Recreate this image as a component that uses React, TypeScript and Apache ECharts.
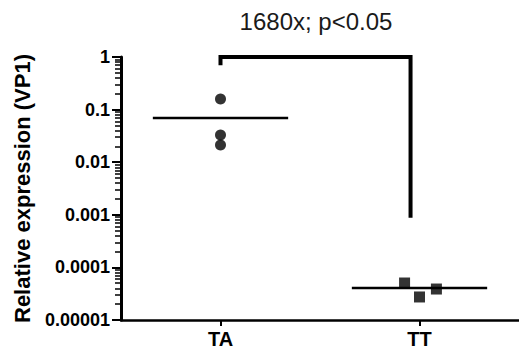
import React, { useEffect, useRef } from "react";
import * as echarts from "echarts";

const categories = ["TA", "TT"];
const titleText = "1680x; p<0.05";
const yAxisName = "Relative expression (VP1)";
const yTickLabels = ["0.00001", "0.0001", "0.001", "0.01", "0.1", "1"];

// x = category index (+ small horizontal jitter), y = relative expression
const taValues: [number, number][] = [
  [0, 0.159],
  [0, 0.033],
  [0, 0.0212],
];
const ttValues: [number, number][] = [
  [0.925, 0.0000505],
  [1.0, 0.0000274],
  [1.085, 0.0000388],
];
const means = [0.069, 0.0000406];
const meanHalfWidth = 0.34;
// significance bracket
const bracket: [number, number][] = [
  [0, 0.7],
  [0, 1],
  [0.955, 1],
  [0.955, 0.00088],
];

const minorTickValues: number[] = [];
for (let e = -5; e < 0; e++) {
  for (let m = 2; m <= 9; m++) minorTickValues.push(m * Math.pow(10, e));
}

const FONT = "'Liberation Sans', Arial, sans-serif";

export default function App() {
  const ref = useRef<HTMLDivElement>(null);
  useEffect(() => {
    document.body.style.margin = "0";
    if (!ref.current) return;
    const chart = echarts.init(ref.current, null, { renderer: "svg" });
    const meanSeries = means.map((m, i) => ({
      type: "line",
      data: [
        [i - meanHalfWidth, m],
        [i + meanHalfWidth, m],
      ],
      symbol: "none",
      lineStyle: { color: "#000", width: 2.5 },
      silent: true,
      z: 3,
    }));
    chart.setOption({
      animation: false,
      backgroundColor: "#fff",
      grid: { left: 121, width: 402, top: 57, bottom: 34 },
      graphic: [
        {
          type: "text",
          x: 316,
          y: 21,
          style: {
            text: titleText,
            font: `24px ${FONT}`,
            fill: "#1a1a1a",
            textAlign: "center",
            textVerticalAlign: "middle",
          },
        },
      ],
      xAxis: {
        type: "value",
        min: -0.5,
        max: 1.5,
        splitLine: { show: false },
        axisLine: { onZero: false, lineStyle: { color: "#000", width: 2.5 } },
        axisTick: {
          customValues: [0, 1],
          length: 6,
          lineStyle: { color: "#000", width: 2 },
        },
        axisLabel: {
          customValues: [0, 1],
          formatter: (v: number) => categories[Math.round(v)] ?? "",
          color: "#000",
          fontFamily: FONT,
          fontWeight: "bold",
          fontSize: 20,
          margin: 9,
        },
      },
      yAxis: [
        {
          type: "log",
          logBase: 10,
          min: 0.00001,
          max: 1,
          name: yAxisName,
          nameLocation: "middle",
          nameGap: 88,
          nameTextStyle: {
            color: "#000",
            fontFamily: FONT,
            fontWeight: "bold",
            fontSize: 22,
          },
          splitLine: { show: false },
          axisLine: { show: true, onZero: false, lineStyle: { color: "#000", width: 3 } },
          axisTick: { length: 9, lineStyle: { color: "#000", width: 2 } },
          axisLabel: {
            formatter: (v: number) => yTickLabels[Math.round(Math.log10(v)) + 5] ?? "",
            color: "#000",
            fontFamily: FONT,
            fontWeight: "bold",
            fontSize: 18,
            margin: 11,
          },
        },
        {
          type: "log",
          logBase: 10,
          min: 0.00001,
          max: 1,
          position: "left",
          offset: 0,
          splitLine: { show: false },
          axisLine: { show: false, onZero: false },
          axisTick: {
            customValues: minorTickValues,
            length: 6,
            lineStyle: { color: "#000", width: 1.5 },
          },
          axisLabel: { show: false },
        },
      ],
      series: [
        {
          type: "scatter",
          data: taValues,
          symbol: "circle",
          symbolSize: 11,
          itemStyle: { color: "#000" },
          z: 4,
        },
        {
          type: "scatter",
          data: ttValues,
          symbol: "rect",
          symbolSize: 11,
          itemStyle: { color: "#000" },
          z: 4,
        },
        ...meanSeries,
        {
          type: "line",
          data: bracket,
          symbol: "none",
          lineStyle: { color: "#000", width: 4, join: "miter", cap: "butt" },
          silent: true,
          z: 3,
        },
      ],
    });
    return () => chart.dispose();
  }, []);
  return <div ref={ref} style={{ width: 519, height: 354 }} />;
}
